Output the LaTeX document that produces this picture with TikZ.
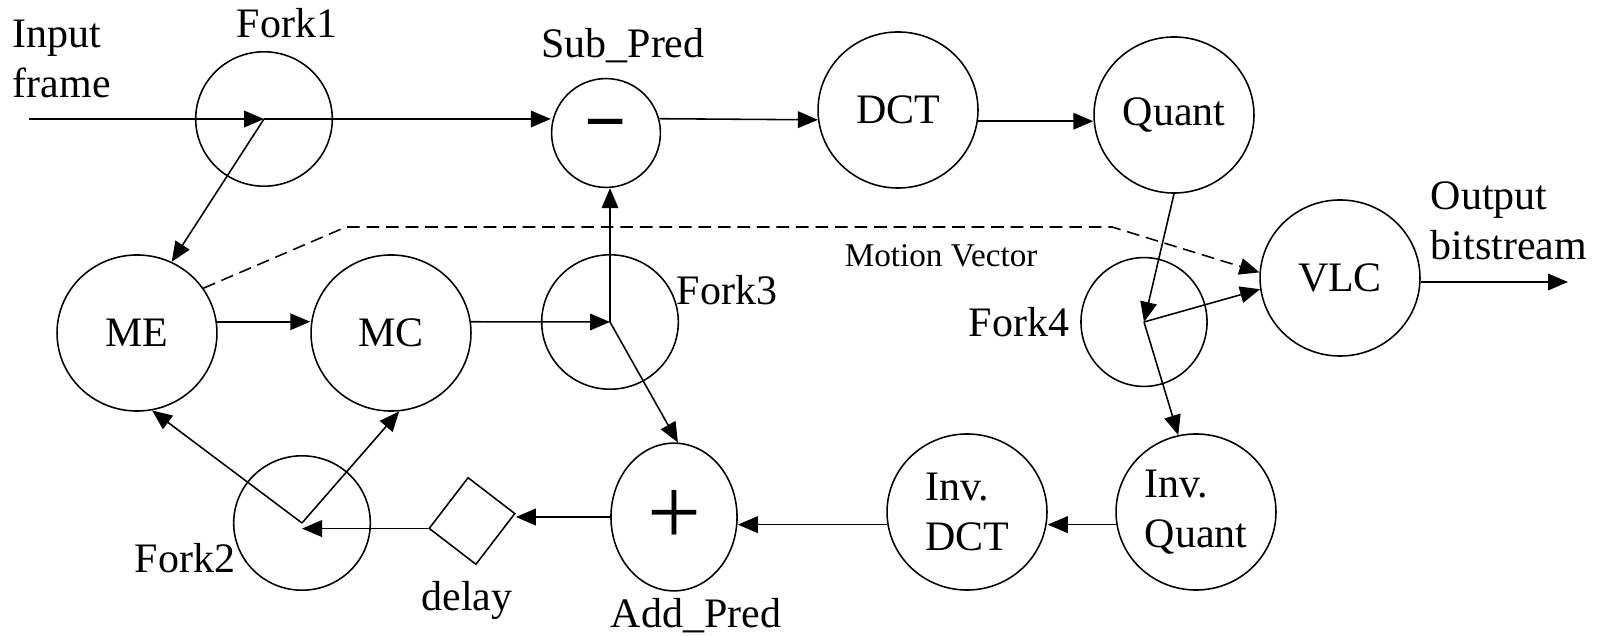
\documentclass[tikz,border=0pt]{standalone}
\usepackage{fontspec}
\setmainfont{Liberation Serif}
\usetikzlibrary{arrows.meta,positioning,shapes}

\begin{document}
\begin{tikzpicture}[x=0.018cm,y=-0.018cm,>={Triangle[length=3.6mm,width=3mm]},line width=0.8pt,
  every node/.style={font=\fontsize{21.5}{25.6}\selectfont,inner sep=0pt}]
\tikzstyle{blk}=[draw,ellipse,align=left,minimum width=2.88cm,minimum height=2.81cm]
\tikzstyle{fork}=[draw,ellipse,minimum width=2.46cm,minimum height=2.42cm]
\tikzstyle{lbl}=[anchor=base]
\useasboundingbox (0,0) rectangle (1598,636);
% upper row
\node[fork] (fork1) at (264,119) {};
\node[draw,ellipse,minimum size=1.96cm,font=\fontsize{38}{40}\selectfont\bfseries] (sub) at (606,133) {−};
\node[blk] (dct) at (898,110) {DCT};
\node[blk] (quant) at (1174,115) {Quant};
\node[blk] (vlc) at (1340,278) {VLC};
\node[fork,minimum width=2.27cm,minimum height=2.32cm] (fork4) at (1144,322) {};
% middle row
\node[blk] (me) at (137,333) {ME};
\node[blk] (mc) at (391,333) {MC};
\node[fork] (fork3) at (610,322) {};
% lower row
\node[blk] (iquant) at (1196,512) {Inv.\\Quant};
\node[blk] (idct) at (967,512) {Inv.\\DCT};
\node[draw,ellipse,minimum width=2.27cm,minimum height=2.66cm,font=\fontsize{49}{50}\selectfont] (add) at (674,517) {+};
\node[draw,rectangle,rotate=-37.5,minimum width=1.06cm,minimum height=1.15cm] (delay) at (472,521) {};
\node[fork] (fork2) at (302,523) {};
% texts
\node[anchor=north west,align=left] (input) at (12,19) {Input\\frame};
\node[anchor=north west,align=left] (output) at (1430,181) {Output\\bitstream};
\node[lbl] (lfork1) at (287,38) {Fork1};
\node[lbl] (lsub) at (623,58) {Sub\_Pred};
\node[lbl,anchor=base west] (lfork3) at (676,305) {Fork3};
\node[lbl,anchor=base west] (lfork4) at (968,337) {Fork4};
\node[lbl,anchor=base west] (lfork2) at (134,572) {Fork2};
\node[lbl] (ldelay) at (467,610) {delay};
\node[lbl] (ladd) at (696,627) {Add\_Pred};
\node[lbl,anchor=base west,font=\fontsize{17}{20}\selectfont] (lmv) at (844,267) {Motion Vector};
\coordinate (in) at (29,119);
\coordinate (out) at (1568,282);
\coordinate (mv1) at (346,227);
\coordinate (mv2) at (1112,227);
% connectors
\draw[->] (in) -- (fork1.center);
\draw[->] (fork1.center) -- (sub.west |- fork1.center);
\draw[->] (fork1.center) -- (me.64);
\draw[->] (sub.15) -- (dct.187);
\draw[->] (dct.-8) -- (dct.-8 -| quant.west);
\draw[->] (quant.south) -- (fork4.center);
\draw[->] (fork4.center) -- (vlc.188);
\draw[->] (fork4.center) -- (iquant.103);
\draw[->] (vlc.east |- out) -- (out);
\draw[->] (iquant.189) -- (iquant.189 -| idct.east);
\draw[->] (idct.189) -- (idct.189 -| add.east);
\draw[->] (add.west) -- (add.west -| delay.north east);
\draw[->] (delay.south west) -- (delay.south west -| fork2.center);
\draw[->] (fork2.center) -- (me.-79);
\draw[->] (fork2.center) -- (mc.-84);
\draw[->] (me.8) -- (me.8 -| mc.west);
\draw[->] (mc.8) -- (fork3.center);
\draw[->] (fork3.center) -- (fork3.center |- sub.south);
\draw[->] (fork3.center) -- (add.87);
\draw[->,dash pattern=on 6.5pt off 3.5pt] (me.34) -- (mv1) -- (mv2) -- (vlc.176);
\end{tikzpicture}
\end{document}
